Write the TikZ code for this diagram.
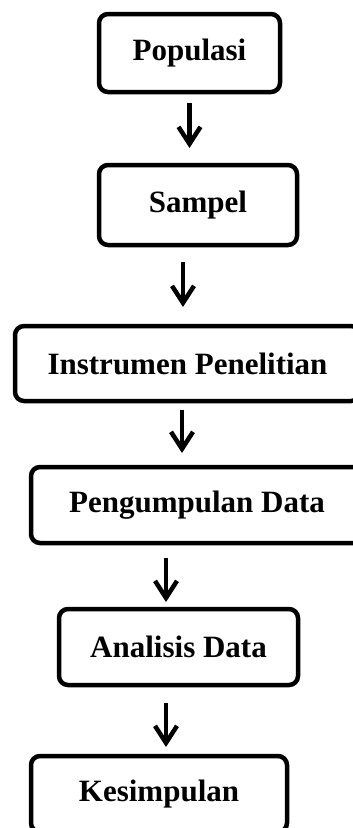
\documentclass[tikz,border=0pt]{standalone}
\usepackage{fontspec}
\setmainfont{Liberation Serif}
\usetikzlibrary{positioning,calc,arrows.meta}
\tikzset{>={Straight Barb[length=17pt,width=22pt]}}
\tikzset{
  box/.style={draw,line width=4.5pt,rounded corners=9pt,outer sep=0pt,
    inner sep=0pt,align=center,font=\fontsize{31}{36}\selectfont\bfseries},
  arr/.style={->,line width=4.5pt}
}

\begin{document}
\begin{tikzpicture}[x=1pt,y=-1pt]
\clip (0,0) rectangle (353,828);
\useasboundingbox (0,0) rectangle (353,828);
\node[box,minimum width=181pt,minimum height=78pt] (pop) at (189.5,53) {Populasi};
\node[box,minimum width=198pt,minimum height=80pt] (smp) at (198,205) {Sampel};
\node[box,minimum width=345pt,minimum height=75pt] (ins) at (187.5,363.5) {Instrumen Penelitian};
\node[box,minimum width=332pt,minimum height=76pt] (pen) at (197,505) {Pengumpulan Data};
\node[box,minimum width=239pt,minimum height=76pt] (ana) at (178.5,647) {Analisis Data};
\node[box,minimum width=256pt,minimum height=76pt] (kes) at (159,794) {Kesimpulan};
% arrows between the steps
\draw[arr,shorten <=11pt,shorten >=17pt] (pop.south) -- (pop.south |- smp.north);
\draw[arr,shorten <=17pt,shorten >=19pt] ([xshift=-15pt]smp.south) -- ([xshift=-15pt]smp.south |- ins.north);
\draw[arr,shorten <=9pt,shorten >=14pt] ([xshift=-5.5pt]ins.south) -- ([xshift=-5.5pt]ins.south |- pen.north);
\draw[arr,shorten <=15pt,shorten >=7pt] ([xshift=-31pt]pen.south) -- ([xshift=-31pt]pen.south |- ana.north);
\draw[arr,shorten <=18pt,shorten >=9pt] ([xshift=-12.5pt]ana.south) -- ([xshift=-12.5pt]ana.south |- kes.north);
\end{tikzpicture}
\end{document}
